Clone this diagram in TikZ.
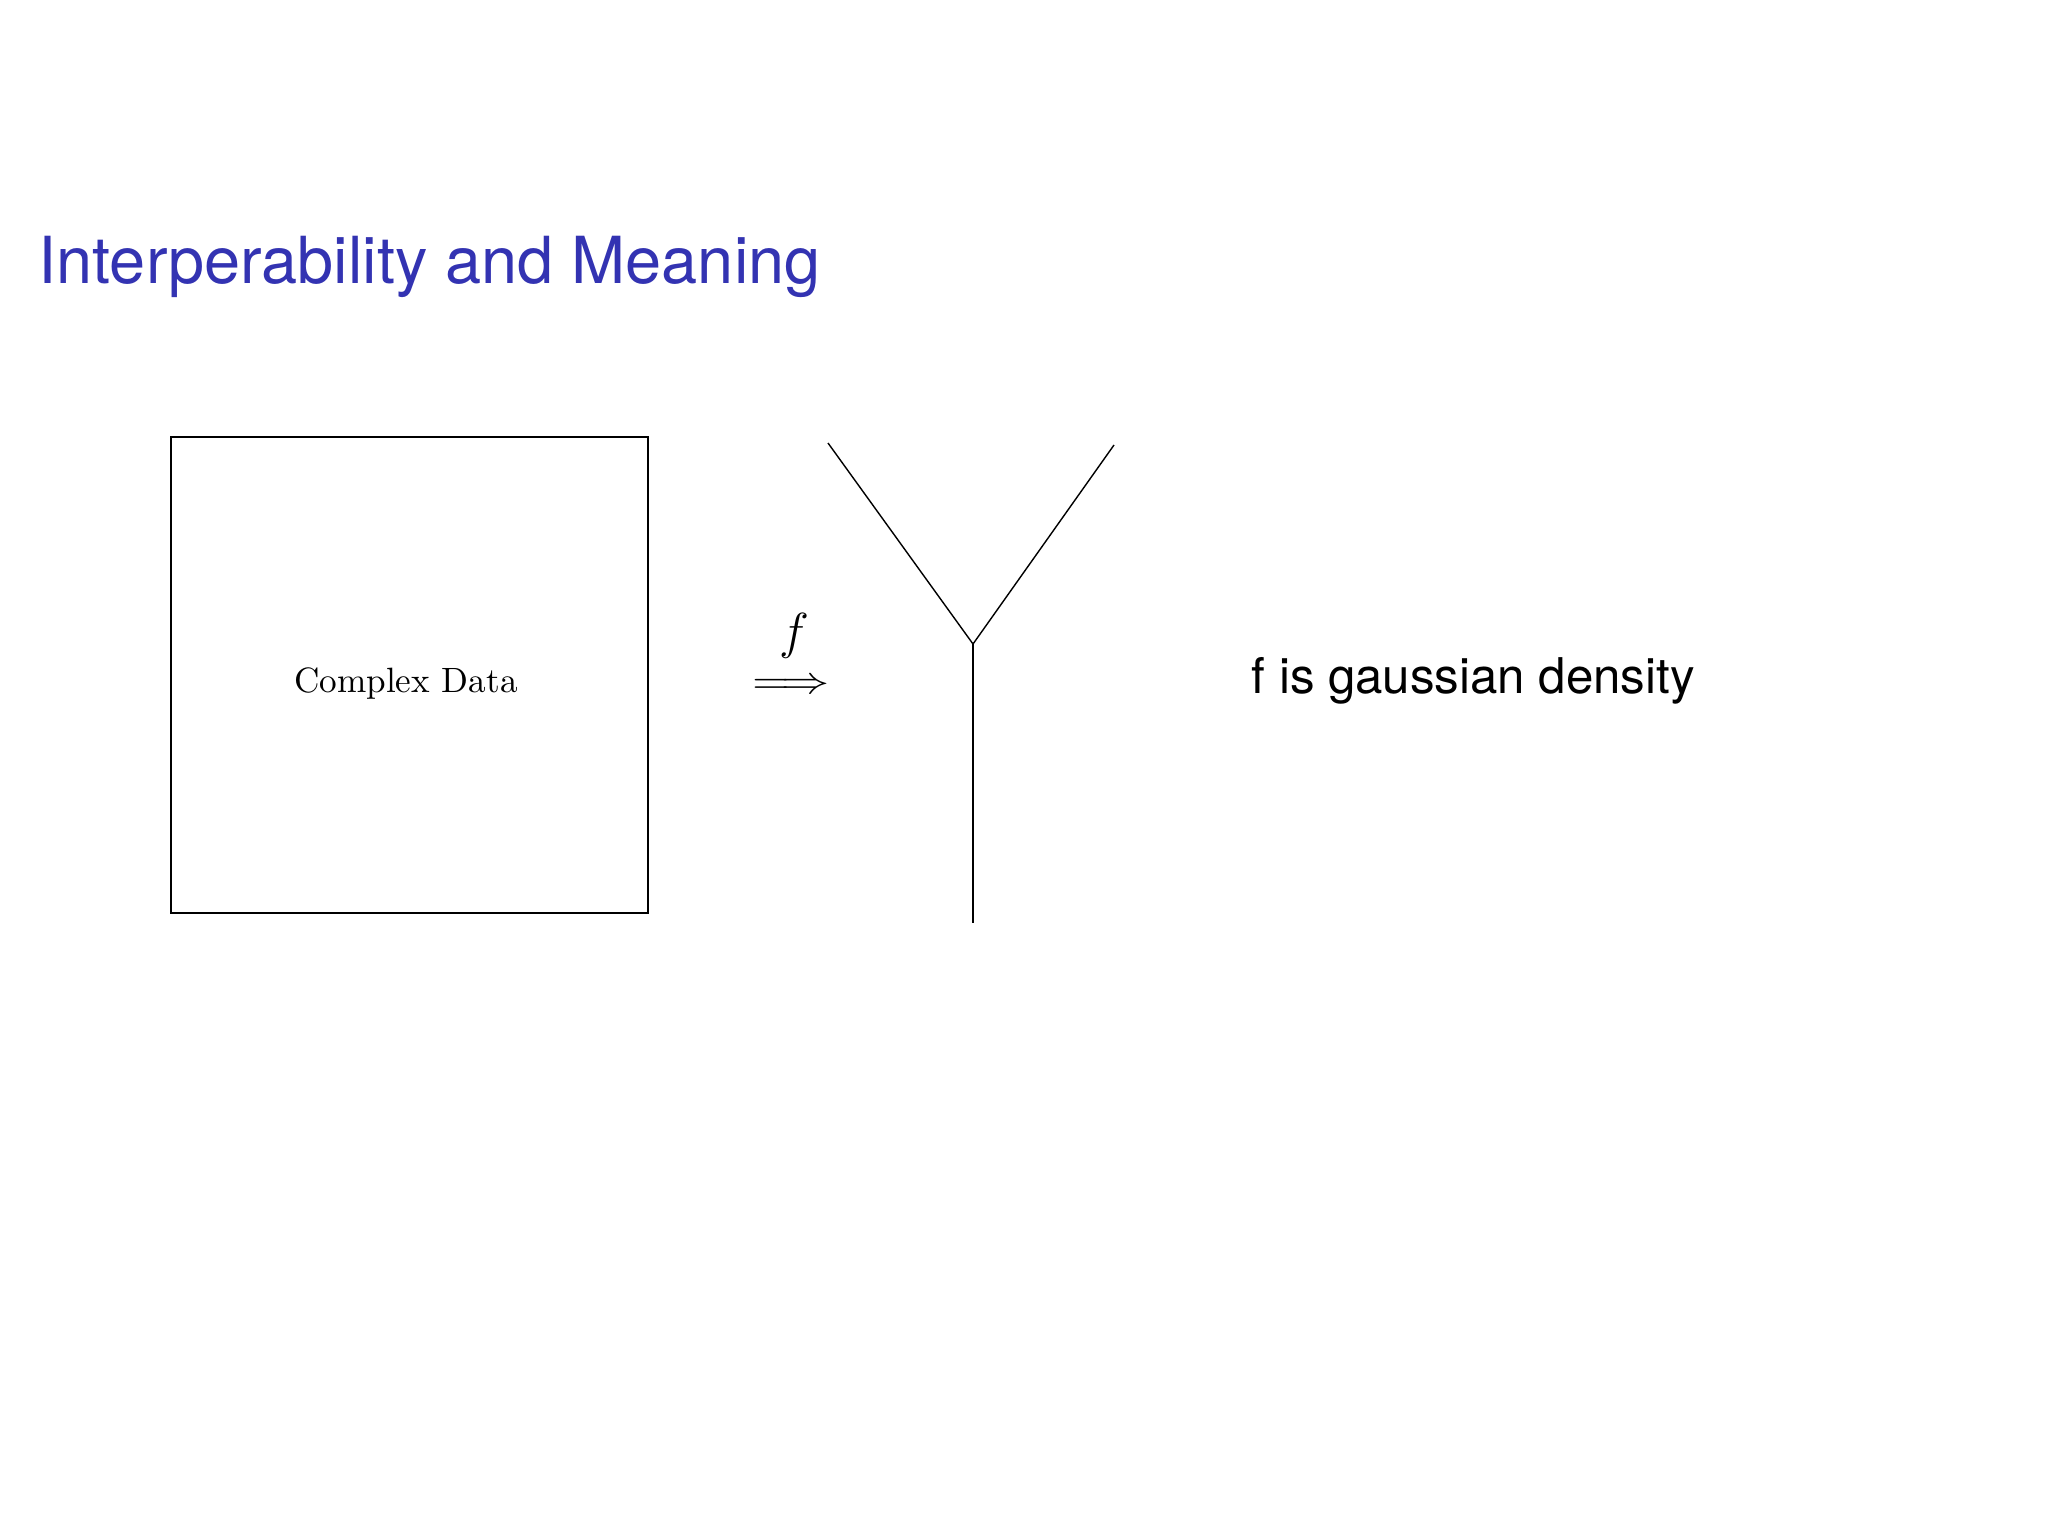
\documentclass[tikz,border=0pt]{standalone}
\usepackage{fontspec}
\setmainfont{Latin Modern Roman}
\newfontfamily\helv{TeX Gyre Heros}
\usepackage{amsmath}
\definecolor{titleblue}{rgb}{0.2,0.2,0.7}
\begin{document}
\begin{tikzpicture}[x=0.01cm,y=-0.01cm,
  thinline/.style={line width=0.4pt,black},
  titletext/.style={inner sep=0pt,anchor=base west,font=\helv\fontsize{18.45}{22}\selectfont,text=titleblue},
  sanstext/.style={inner sep=0pt,anchor=base west,font=\helv\fontsize{14}{17}\selectfont},
  databox/.style={draw,thinline,minimum width=4.77cm,minimum height=4.76cm,inner sep=0pt}]
\useasboundingbox[fill=white] (0,0) rectangle (2048,1536);
\node[titletext] (title) at (38,283) {Interperability and Meaning};
\node[databox] (box) at (409.5,675) {};
\node[inner sep=0pt,font=\fontsize{10}{12}\selectfont] (boxlabel) at (406,684) {Complex Data};
\node[inner sep=0pt,font=\fontsize{10.5}{12}\selectfont] (arrow) at (791,686) {\scalebox{1.25}[1]{$\Longrightarrow$}};
\node[inner sep=0pt,font=\fontsize{14}{16}\selectfont] (flabel) at (794,636) {$f$};
\coordinate (ytl) at (828,443);
\coordinate (ytr) at (1114,445);
\coordinate (yj) at (973,644);
\coordinate (yb) at (973,923);
\draw[thinline] (ytl) -- (yj) -- (ytr);
\draw[thinline] (yj) -- (yb);
\node[sanstext] (desc) at (1251,693) {f is gaussian density};
\end{tikzpicture}
\end{document}
